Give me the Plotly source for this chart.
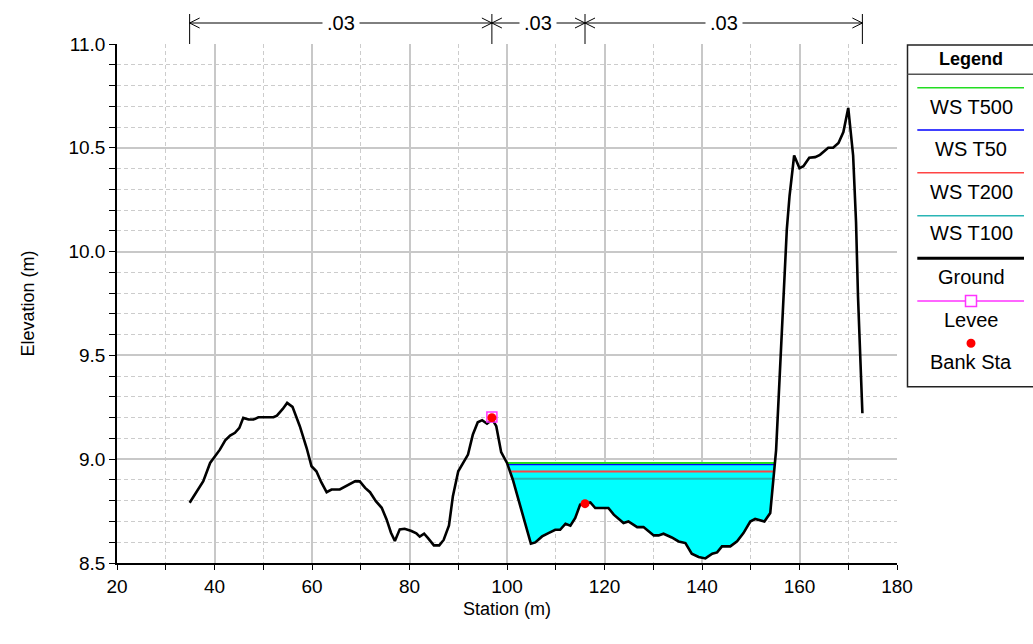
import plotly.graph_objects as go

# ---------------- data ----------------
ground_sta = [34.9, 36.7, 37.7, 39.1, 40.1, 41.1, 42.2, 43.2, 44.2, 45.1, 45.9, 47.0, 48.0, 49.0,
              52.1, 52.8, 54.0, 54.9, 56.0, 57.5, 58.9, 59.9, 60.9, 61.9, 63.0, 64.0, 65.7, 67.1,
              68.8, 69.8, 70.9, 71.9, 73.1, 74.3, 75.3, 76.2, 77.0, 78.0, 79.0, 80.4, 81.4, 82.1,
              83.0, 83.8, 85.0, 86.1, 87.0, 88.1, 88.9, 90.0, 91.0, 92.0, 93.0, 94.0, 94.9, 95.9,
              97.0, 97.8, 98.8, 100.0, 101.2, 104.9, 105.8, 107.2, 108.5, 109.9, 110.9, 112.0,
              113.0, 114.0, 115.0, 116.0, 117.1, 118.1, 120.8, 121.9, 123.9, 124.9, 126.7, 128.0,
              130.1, 131.1, 132.1, 133.8, 135.2, 136.6, 137.9, 139.3, 140.7, 142.1, 143.1, 144.1,
              145.8, 147.2, 148.5, 149.9, 150.9, 152.8, 154.0, 155.2, 156.05, 156.7, 157.4, 157.96,
              158.9, 160.0, 160.8, 162.0, 163.2, 164.2, 165.0, 165.9, 166.9, 168.0, 169.0, 170.0,
              171.0, 171.6, 172.0, 172.9]
ground_elev = [8.79, 8.854, 8.894, 8.982, 9.014, 9.046, 9.091, 9.114, 9.127, 9.151, 9.199, 9.191,
               9.191, 9.202, 9.202, 9.21, 9.242, 9.271, 9.252, 9.159, 9.054, 8.966, 8.942, 8.889,
               8.841, 8.854, 8.854, 8.873, 8.893, 8.893, 8.862, 8.841, 8.798, 8.766, 8.71, 8.646,
               8.606, 8.662, 8.665, 8.654, 8.643, 8.627, 8.641, 8.62, 8.585, 8.585, 8.611, 8.681,
               8.822, 8.942, 8.982, 9.022, 9.119, 9.178, 9.188, 9.171, 9.191, 9.159, 9.034, 8.982,
               8.901, 8.593, 8.599, 8.628, 8.644, 8.66, 8.66, 8.689, 8.68, 8.717, 8.781, 8.786,
               8.792, 8.765, 8.765, 8.733, 8.693, 8.7, 8.673, 8.673, 8.633, 8.633, 8.641, 8.623,
               8.604, 8.596, 8.545, 8.529, 8.522, 8.545, 8.551, 8.58, 8.58, 8.604, 8.644, 8.7,
               8.712, 8.7, 8.741, 9.044, 9.463, 9.786, 10.108, 10.269, 10.463, 10.402, 10.411,
               10.452, 10.455, 10.466, 10.482, 10.5, 10.5, 10.523, 10.576, 10.692, 10.463, 10.14,
               9.785, 9.221]

ws_names = ["WS T500", "WS T50", "WS T200", "WS T100"]
ws_elev = [8.982, 8.976, 8.941, 8.906]
ws_colors = ["#22dd22", "#0000ff", "#ff4444", "#2ab5b5"]

levee_sta = [96.9]
levee_elev = [9.203]
bank_sta = [96.9, 116.0]
bank_elev = [9.200, 8.786]

n_break_sta = [34.9, 96.9, 116.0, 172.9]
n_values = [".03", ".03", ".03"]

channel_window = (98.0, 160.0)

# ---------------- layout geometry ----------------
W, H = 1033, 644
ML, MR, MT, MB = 117, 136, 44, 81
PW, PH = W - ML - MR, H - MT - MB
FONT = "Liberation Sans, Arial, sans-serif"
FS = 20


def xp(px):
    return (px - ML) / PW


def yp(py):
    return (H - MB - py) / PH


def crossings(level):
    pts = []
    for i in range(len(ground_sta) - 1):
        s0, s1 = ground_sta[i], ground_sta[i + 1]
        e0, e1 = ground_elev[i], ground_elev[i + 1]
        if s1 < channel_window[0] or s0 > channel_window[1]:
            continue
        if (e0 - level) * (e1 - level) <= 0 and e0 != e1:
            t = (level - e0) / (e1 - e0)
            pts.append(s0 + t * (s1 - s0))
    return pts[0], pts[-1]


def label(x, y, text, xref="paper", yref="paper", size=FS, **kw):
    d = dict(x=x, y=y, xref=xref, yref=yref, text=text, showarrow=False,
             xanchor="center", yanchor="middle",
             font=dict(family=FONT, size=size, color="black"))
    d.update(kw)
    return d


fig = go.Figure()

# water fill (highest WS)
top = max(ws_elev)
xl, xr = crossings(top)
fx = [xl] + [s for s in ground_sta if xl < s < xr] + [xr]
fy = [top] + [e for s, e in zip(ground_sta, ground_elev) if xl < s < xr] + [top]
fig.add_trace(go.Scatter(x=fx, y=fy, fill="toself", fillcolor="#00ffff", mode="lines",
                         line=dict(width=0, color="#00ffff"), hoverinfo="skip", showlegend=False))

# water surface lines
order = sorted(range(len(ws_elev)), key=lambda i: ws_elev[i])
for i in order:
    a, b = crossings(ws_elev[i])
    fig.add_trace(go.Scatter(x=[a, b], y=[ws_elev[i], ws_elev[i]], mode="lines",
                             line=dict(color=ws_colors[i], width=2), name=ws_names[i],
                             showlegend=False))

# ground
fig.add_trace(go.Scatter(x=ground_sta, y=ground_elev, mode="lines",
                         line=dict(color="black", width=2.6), name="Ground", showlegend=False))
# levee
fig.add_trace(go.Scatter(x=levee_sta, y=levee_elev, mode="markers",
                         marker=dict(symbol="square-open", size=10, color="#ff33ff",
                                     line=dict(width=1.5, color="#ff33ff")),
                         name="Levee", showlegend=False))
# bank stations
fig.add_trace(go.Scatter(x=bank_sta, y=bank_elev, mode="markers",
                         marker=dict(symbol="circle", size=9, color="#ff0000"),
                         name="Bank Sta", showlegend=False))

shapes = []
annotations = []

# Manning's n dimension lines above the plot
px_per_unit = PW / 160.0
y_arrow = yp(23)
for s in n_break_sta:
    shapes.append(dict(type="line", xref="x", yref="paper", x0=s, x1=s, y0=yp(14), y1=1.0,
                       line=dict(color="black", width=1)))
chev_w = 10 / px_per_unit
chev_h = 5 / PH
for i in range(len(n_values)):
    a, b = n_break_sta[i], n_break_sta[i + 1]
    shapes.append(dict(type="line", xref="x", yref="paper", x0=a, x1=b, y0=y_arrow, y1=y_arrow,
                       line=dict(color="black", width=1)))
    shapes.append(dict(type="path", xref="x", yref="paper",
                       path=f"M{a + chev_w},{y_arrow + chev_h} L{a},{y_arrow} L{a + chev_w},{y_arrow - chev_h}",
                       line=dict(color="black", width=1)))
    shapes.append(dict(type="path", xref="x", yref="paper",
                       path=f"M{b - chev_w},{y_arrow + chev_h} L{b},{y_arrow} L{b - chev_w},{y_arrow - chev_h}",
                       line=dict(color="black", width=1)))
    annotations.append(label((a + b) / 2, y_arrow, n_values[i], xref="x",
                             bgcolor="white", borderpad=4))

# legend box
LX0, LX1, LY0, LY1 = 907.5, 1040, 45, 386.7
shapes.append(dict(type="rect", xref="paper", yref="paper", x0=xp(LX0), x1=xp(LX1),
                   y0=yp(LY1), y1=yp(LY0), line=dict(color="#222222", width=1.5),
                   fillcolor="white", layer="below"))
shapes.append(dict(type="line", xref="paper", yref="paper", x0=xp(LX0), x1=xp(LX1),
                   y0=yp(74.3), y1=yp(74.3), line=dict(color="#555555", width=1.5)))
annotations.append(label(xp(971), yp(59), "<b>Legend</b>", size=18))
lx0, lx1, lcx = 917.3, 1024, 971
leg_line_y = [87.7, 130, 172.7, 215.7]
leg_text_y = [106.5, 149, 192, 233]
for i in range(4):
    shapes.append(dict(type="line", xref="paper", yref="paper", x0=xp(lx0), x1=xp(lx1),
                       y0=yp(leg_line_y[i]), y1=yp(leg_line_y[i]),
                       line=dict(color=ws_colors[i], width=1.5)))
    annotations.append(label(xp(lcx), yp(leg_text_y[i]), ws_names[i]))
# Ground
shapes.append(dict(type="line", xref="paper", yref="paper", x0=xp(lx0), x1=xp(lx1),
                   y0=yp(258.3), y1=yp(258.3), line=dict(color="black", width=3)))
annotations.append(label(xp(lcx), yp(277), "Ground"))
# Levee
shapes.append(dict(type="line", xref="paper", yref="paper", x0=xp(lx0), x1=xp(lx1),
                   y0=yp(301), y1=yp(301), line=dict(color="#ff33ff", width=1.5)))
shapes.append(dict(type="rect", xref="paper", yref="paper", x0=xp(lcx - 5.5), x1=xp(lcx + 5.5),
                   y0=yp(306.5), y1=yp(295.5), line=dict(color="#ff33ff", width=1.5),
                   fillcolor="white"))
annotations.append(label(xp(lcx), yp(320), "Levee"))
# Bank Sta
shapes.append(dict(type="circle", xref="paper", yref="paper", x0=xp(lcx - 4.5), x1=xp(lcx + 4.5),
                   y0=yp(347.8), y1=yp(338.8), line=dict(color="#ff0000", width=0),
                   fillcolor="#ff0000"))
annotations.append(label(xp(lcx), yp(361.5), "Bank Sta"))

# axis titles
annotations.append(label(0.5, yp(609), "Station (m)", size=18))
annotations.append(label(xp(27), 0.5, "Elevation (m)", size=18, textangle=-90))

fig.update_layout(
    width=W, height=H,
    margin=dict(l=ML, r=MR, t=MT, b=MB, autoexpand=False),
    paper_bgcolor="white", plot_bgcolor="white",
    showlegend=False,
    shapes=shapes, annotations=annotations,
    font=dict(family=FONT, size=FS, color="black"),
)
fig.update_xaxes(
    range=[20, 180], tick0=20, dtick=20, ticks="outside", ticklen=5, tickcolor="black",
    showline=True, linecolor="black", linewidth=2,
    showgrid=True, gridcolor="#c8c8c8", gridwidth=1.5, zeroline=False,
    tickfont=dict(family=FONT, size=19, color="black"),
    minor=dict(tick0=20, dtick=10, ticks="outside", ticklen=5, tickcolor="black",
               showgrid=True, gridcolor="#cccccc", gridwidth=1, griddash="4px,3px"),
)
fig.update_yaxes(
    range=[8.5, 11.0], tick0=8.5, dtick=0.5, tickformat=".1f", ticks="outside", ticklen=6,
    tickcolor="black", showline=True, linecolor="black", linewidth=1.5,
    showgrid=True, gridcolor="#c8c8c8", gridwidth=1.5, zeroline=False,
    tickfont=dict(family=FONT, size=19, color="black"),
    minor=dict(tick0=8.5, dtick=0.1, ticks="outside", ticklen=6, tickcolor="black",
               showgrid=True, gridcolor="#cccccc", gridwidth=1, griddash="4px,3px"),
)

fig.write_html("out.html", config={"displayModeBar": False},
               post_script="document.body.style.margin='0';document.body.style.padding='0';")
